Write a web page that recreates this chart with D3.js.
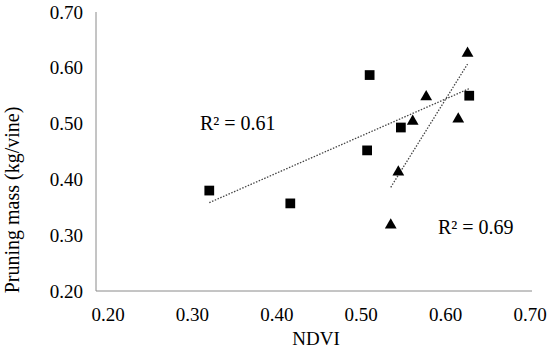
<!DOCTYPE html>
<html>
<head>
<meta charset="utf-8">
<script src="https://cdn.jsdelivr.net/npm/d3@7"></script>
<style>
  body { margin: 0; background: #fff; }
  text { font-family: "Liberation Serif", "Times New Roman", serif; fill: #000; }
</style>
</head>
<body>
<svg id="plot"></svg>
<script>
// data
const squareNdvi = [0.320, 0.416, 0.507, 0.510, 0.547, 0.628];
const squareMass = [0.380, 0.357, 0.452, 0.587, 0.493, 0.550];
const triangleNdvi = [0.535, 0.544, 0.561, 0.577, 0.615, 0.626];
const triangleMass = [0.318, 0.413, 0.504, 0.548, 0.508, 0.626];
const tickValues = [0.20, 0.30, 0.40, 0.50, 0.60, 0.70];
const r2Labels = ["R² = 0.61", "R² = 0.69"];

const width = 550, height = 352;
const svg = d3.select("#plot").attr("width", width).attr("height", height);

const x = d3.scaleLinear().domain([0.2, 0.7]).range([108, 530]);
const y = d3.scaleLinear().domain([0.2, 0.7]).range([291, 12]);

//axis lines
const axisX0 = x.range()[0] - 12;
svg.append("line")
    .attr("x1", axisX0).attr("x2", x(0.7) + 2)
    .attr("y1", y(0.2)).attr("y2", y(0.2))
    .attr("stroke", "#8a8a8a").attr("stroke-width", 1);
svg.append("line")
    .attr("x1", axisX0).attr("x2", axisX0)
    .attr("y1", y(0.2)).attr("y2", y(0.7))
    .attr("stroke", "#8a8a8a").attr("stroke-width", 1);

//tick labels
svg.selectAll(".xlab").data(tickValues).enter().append("text")
    .attr("x", d => x(d)).attr("y", 321)
    .attr("text-anchor", "middle").style("font-size", "19px")
    .text(d => d.toFixed(2));
svg.selectAll(".ylab").data(tickValues).enter().append("text")
    .attr("x", 83).attr("y", d => y(d) + 6.5)
    .attr("text-anchor", "end").style("font-size", "19px")
    .text(d => d.toFixed(2));

//axis titles
svg.append("text").attr("x", 316).attr("y", 345)
    .attr("text-anchor", "middle").style("font-size", "19px").text("NDVI");
svg.append("text")
    .attr("transform", "translate(19,200) rotate(-90)")
    .attr("text-anchor", "middle").style("font-size", "20px")
    .text("Pruning mass (kg/vine)");

//linear trendline like excel does
function fit(xs, ys) {
    const mx = d3.mean(xs), my = d3.mean(ys);
    let sxy = 0, sxx = 0;
    xs.forEach((v, i) => { sxy += (v - mx) * (ys[i] - my); sxx += (v - mx) * (v - mx); });
    const b = sxy / sxx, a = my - b * mx;
    const lo = d3.min(xs), hi = d3.max(xs);
    return [[lo, a + b * lo], [hi, a + b * hi]];
}

const line = d3.line().x(d => x(d[0])).y(d => y(d[1]));
[[squareNdvi, squareMass], [triangleNdvi, triangleMass]].forEach(s => {
    svg.append("path")
        .attr("d", line(fit(s[0], s[1])))
        .attr("fill", "none").attr("stroke", "#444")
        .attr("stroke-width", 1.3).attr("stroke-dasharray", "1.5,1.5");
});

//markers
const squares = squareNdvi.map((v, i) => [v, squareMass[i]]);
const triangles = triangleNdvi.map((v, i) => [v, triangleMass[i]]);

svg.selectAll(".sq").data(squares).enter().append("path")
    .attr("d", d3.symbol(d3.symbolSquare, 95))
    .attr("transform", d => `translate(${x(d[0])},${y(d[1])})`)
    .attr("fill", "#000");
svg.selectAll(".tri").data(triangles).enter().append("path")
    .attr("d", d3.symbol(d3.symbolTriangle, 60))
    .attr("transform", d => `translate(${x(d[0])},${y(d[1])})`)
    .attr("fill", "#000");

//R squared labels
svg.append("text").attr("x", 200).attr("y", 130)
    .style("font-size", "20px").text(r2Labels[0]);
svg.append("text").attr("x", 438).attr("y", 234)
    .style("font-size", "20px").text(r2Labels[1]);
</script>
</body>
</html>
